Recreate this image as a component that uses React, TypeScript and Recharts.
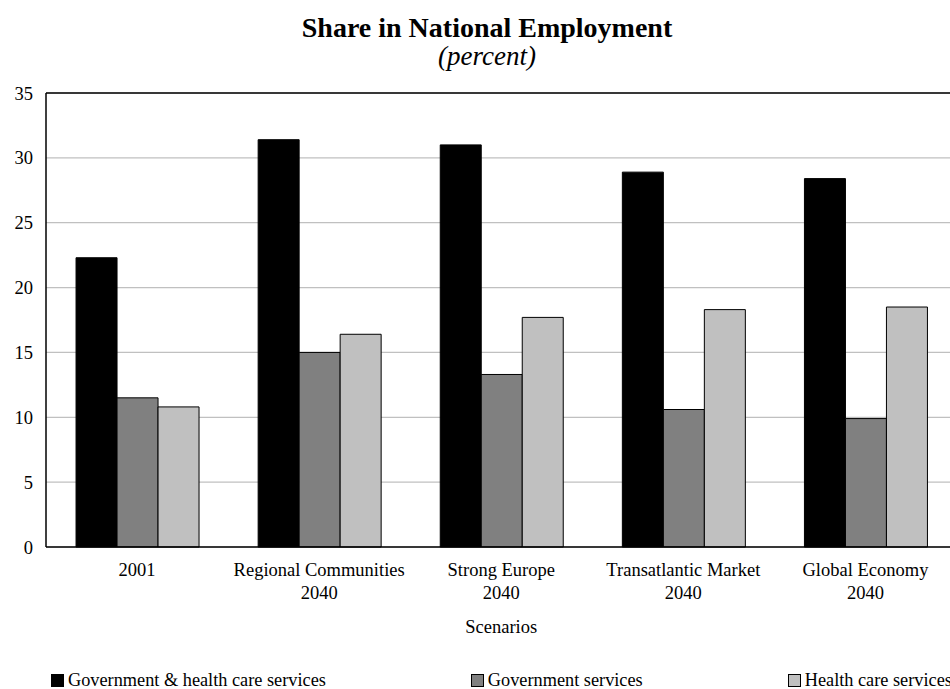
import React from "react";
import { BarChart, Bar, XAxis, YAxis, CartesianGrid, Legend, ReferenceLine } from "recharts";

const categories = [
  "2001",
  "Regional Communities\n2040",
  "Strong Europe\n2040",
  "Transatlantic Market\n2040",
  "Global Economy\n2040",
];
const govHealth = [22.3, 31.4, 31.0, 28.9, 28.4];
const gov = [11.5, 15.0, 13.3, 10.6, 9.9];
const health = [10.8, 16.4, 17.7, 18.3, 18.5];
const yTicks = [0, 5, 10, 15, 20, 25, 30, 35];

const seriesNames = ["Government & health care services", "Government services", "Health care services"];
const seriesColors = ["#000000", "#808080", "#c0c0c0"];

const data = categories.map((name, i) => ({
  name,
  a: govHealth[i],
  b: gov[i],
  c: health[i],
}));

const FONT = "'Liberation Serif', 'Times New Roman', serif";
const FS = 18.5;

const XTick = (props: any) => {
  const { x, y, payload } = props;
  const lines = String(payload.value).split("\n");
  return (
    <text x={x} y={y} textAnchor="middle" fill="#000" fontSize={FS} fontFamily={FONT}>
      {lines.map((l, i) => (
        <tspan key={i} x={x} dy={i === 0 ? 29 : 23}>
          {l}
        </tspan>
      ))}
    </text>
  );
};

const LegendContent = (props: any) => {
  const { payload } = props;
  return (
    <div
      style={{
        display: "flex",
        height: 20,
        alignItems: "center",
        paddingLeft: 51,
        gap: 145,
        fontFamily: FONT,
        fontSize: 18.3,
        lineHeight: "20px",
        whiteSpace: "nowrap",
        color: "#000",
      }}
    >
      {(payload || []).map((p: any, i: number) => (
        <div key={i} style={{ display: "flex", alignItems: "center" }}>
          <span
            style={{
              display: "inline-block",
              width: 11,
              height: 11,
              background: p.color,
              border: "1px solid #000",
              marginRight: 4,
            }}
          />
          <span>{p.value}</span>
        </div>
      ))}
    </div>
  );
};

export default function App() {
  return (
    <div
      style={{
        position: "absolute",
        left: 0,
        top: 0,
        width: 950,
        height: 689,
        overflow: "hidden",
        background: "#fff",
        fontFamily: FONT,
      }}
    >
      <div
        style={{
          position: "absolute",
          left: 287,
          width: 400,
          top: 14,
          textAlign: "center",
          fontSize: 28,
          fontWeight: "bold",
          lineHeight: "28px",
          fontFamily: FONT,
          whiteSpace: "nowrap",
          zIndex: 2,
        }}
      >
        Share in National Employment
      </div>
      <div
        style={{
          position: "absolute",
          left: 287,
          width: 400,
          top: 44,
          textAlign: "center",
          fontSize: 27,
          fontStyle: "italic",
          lineHeight: "24px",
          fontFamily: FONT,
          whiteSpace: "nowrap",
          zIndex: 2,
        }}
      >
        (percent)
      </div>
      <BarChart
        width={950}
        height={689}
        data={data}
        margin={{ top: 93, right: -6.5, bottom: 0, left: 0 }}
        barCategoryGap="16.5%"
        barGap={0}
        style={{ fontFamily: FONT }}
      >
        <CartesianGrid vertical={false} stroke="#c0c0c0" strokeWidth={1.2} />
        <XAxis
          dataKey="name"
          height={122}
          interval={0}
          tickLine={false}
          tickSize={0}
          tickMargin={0}
          axisLine={{ stroke: "#000", strokeWidth: 1.5 }}
          tick={<XTick />}
          label={{
            value: "Scenarios",
            position: "insideTop",
            offset: 73,
            fill: "#000",
            fontSize: FS,
            fontFamily: FONT,
          }}
        />
        <YAxis
          width={46}
          domain={[0, 35]}
          ticks={yTicks}
          interval={0}
          tickLine={false}
          tickSize={0}
          tickMargin={13}
          axisLine={{ stroke: "#000", strokeWidth: 1.5 }}
          tick={{ fill: "#000", fontSize: FS, fontFamily: FONT }}
        />
        <ReferenceLine y={35} stroke="#000" strokeWidth={1.5} />
        <Legend
          verticalAlign="bottom"
          content={<LegendContent />}
          wrapperStyle={{ left: 0, top: 670, width: 980 }}
        />
        <Bar dataKey="a" name={seriesNames[0]} fill={seriesColors[0]} stroke="#000" strokeWidth={1} isAnimationActive={false} />
        <Bar dataKey="b" name={seriesNames[1]} fill={seriesColors[1]} stroke="#000" strokeWidth={1} isAnimationActive={false} />
        <Bar dataKey="c" name={seriesNames[2]} fill={seriesColors[2]} stroke="#000" strokeWidth={1} isAnimationActive={false} />
      </BarChart>
    </div>
  );
}
